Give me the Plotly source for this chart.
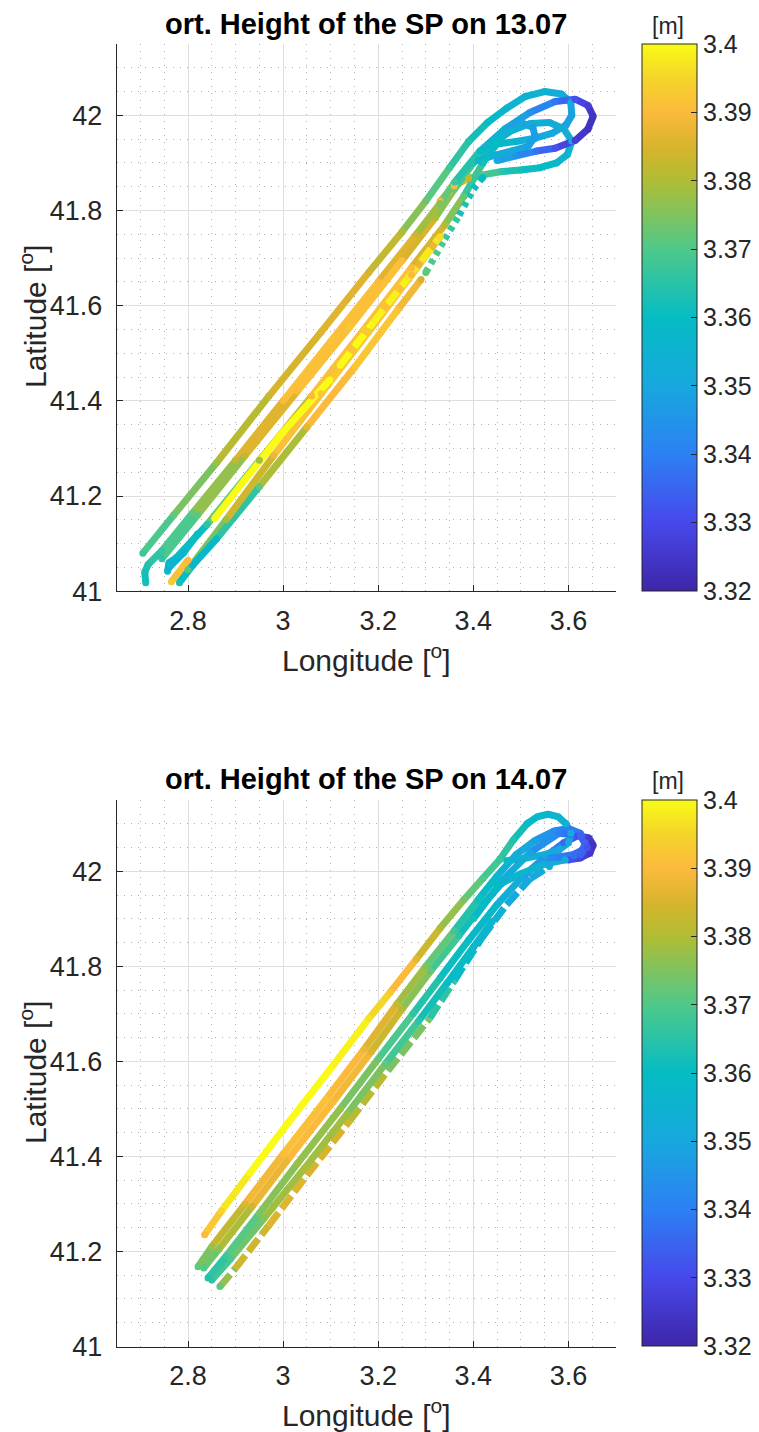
import plotly.graph_objects as go
from plotly.colors import sample_colorscale

# ---------------- colour scale (parula-like) ----------------
HMIN, HMAX = 3.32, 3.40
PARULA = [
    [0.000, "#3e26a8"],
    [0.125, "#4748eb"],
    [0.250, "#2c80f4"],
    [0.375, "#17a8de"],
    [0.500, "#05bcc4"],
    [0.625, "#4ec98a"],
    [0.750, "#b0bd34"],
    [0.8125, "#d8b42c"],
    [0.875, "#fcba3c"],
    [0.9375, "#f4d52a"],
    [1.000, "#f9fb15"],
]
CB_TICKS = [3.32, 3.33, 3.34, 3.35, 3.36, 3.37, 3.38, 3.39, 3.40]
CB_TEXT = ["3.32", "3.33", "3.34", "3.35", "3.36", "3.37", "3.38", "3.39", "3.4"]
X_TICKS = [2.8, 3.0, 3.2, 3.4, 3.6]
X_TEXT = ["2.8", "3", "3.2", "3.4", "3.6"]
Y_TICKS = [41.0, 41.2, 41.4, 41.6, 41.8, 42.0]
Y_TEXT = ["41", "41.2", "41.4", "41.6", "41.8", "42"]

# ---------------- 13.07 tracks ----------------
D13_A_LON = [2.705, 2.77, 2.86, 2.97, 3.08, 3.18, 3.25, 3.30, 3.35, 3.39, 3.43, 3.47, 3.51, 3.55, 3.585, 3.605, 3.607, 3.595, 3.565, 3.53, 3.49, 3.45]
D13_A_LAT = [41.08, 41.16, 41.27, 41.41, 41.545, 41.67, 41.755, 41.82, 41.89, 41.945, 41.985, 42.015, 42.04, 42.05, 42.045, 42.027, 42.0, 41.98, 41.962, 41.952, 41.945, 41.94]
D13_A_H = [3.368, 3.372, 3.378, 3.383, 3.386, 3.385, 3.38, 3.373, 3.368, 3.364, 3.36, 3.357, 3.355, 3.354, 3.352, 3.35, 3.348, 3.348, 3.35, 3.352, 3.355, 3.36]

D13_B_LON = [2.711, 2.709, 2.716, 2.745, 2.81, 2.90, 3.00, 3.10, 3.20, 3.28, 3.33, 3.361, 3.414, 3.467, 3.519, 3.572, 3.614, 3.641, 3.652, 3.641, 3.614, 3.572, 3.533, 3.49, 3.45]
D13_B_LAT = [41.018, 41.04, 41.056, 41.085, 41.165, 41.275, 41.40, 41.525, 41.65, 41.75, 41.815, 41.86, 41.925, 41.972, 42.006, 42.029, 42.034, 42.021, 41.998, 41.971, 41.947, 41.931, 41.925, 41.915, 41.905]
D13_B_H = [3.362, 3.362, 3.364, 3.367, 3.372, 3.382, 3.39, 3.392, 3.39, 3.383, 3.375, 3.368, 3.36, 3.352, 3.345, 3.338, 3.332, 3.327, 3.324, 3.324, 3.327, 3.332, 3.338, 3.345, 3.35]

D13_C_LON = [2.745, 2.82, 2.92, 3.03, 3.14, 3.25, 3.32, 3.36, 3.40, 3.44, 3.48, 3.52, 3.56, 3.59, 3.607, 3.598, 3.575, 3.54, 3.50, 3.46, 3.42, 3.39, 3.36, 3.33]
D13_C_LAT = [41.068, 41.16, 41.285, 41.42, 41.555, 41.695, 41.785, 41.845, 41.90, 41.94, 41.968, 41.983, 41.985, 41.972, 41.946, 41.918, 41.90, 41.89, 41.885, 41.882, 41.875, 41.868, 41.852, 41.82]
D13_C_H = [3.366, 3.372, 3.383, 3.39, 3.393, 3.39, 3.38, 3.372, 3.364, 3.36, 3.356, 3.353, 3.352, 3.352, 3.354, 3.356, 3.358, 3.36, 3.362, 3.365, 3.372, 3.382, 3.39, 3.39]

D13_D_LON = [2.757, 2.76, 2.775, 2.84, 2.95, 3.06, 3.17, 3.27, 3.34, 3.38, 3.42, 3.46, 3.50, 3.525, 3.53, 3.515, 3.48, 3.44, 3.41]
D13_D_LAT = [41.042, 41.06, 41.07, 41.14, 41.275, 41.41, 41.55, 41.68, 41.77, 41.83, 41.90, 41.955, 41.985, 41.975, 41.955, 41.935, 41.925, 41.915, 41.905]
D13_D_H = [3.36, 3.357, 3.357, 3.365, 3.378, 3.39, 3.393, 3.39, 3.38, 3.372, 3.362, 3.356, 3.35, 3.348, 3.347, 3.348, 3.35, 3.353, 3.356]

D13_E_LON = [2.782, 2.81, 2.86, 2.95, 3.05, 3.15, 3.24, 3.29]
D13_E_LAT = [41.018, 41.055, 41.11, 41.22, 41.345, 41.47, 41.59, 41.655]
D13_E_H = [3.362, 3.356, 3.36, 3.372, 3.387, 3.392, 3.392, 3.385]

D13_E2_LON = [3.30, 3.34, 3.37, 3.40, 3.42]
D13_E2_LAT = [41.67, 41.74, 41.79, 41.845, 41.87]
D13_E2_H = [3.372, 3.368, 3.365, 3.362, 3.36]

D13_F_LON = [2.765, 2.80]
D13_F_LAT = [41.02, 41.065]
D13_F_H = [3.393, 3.39]

D13_G_LON = [2.856, 2.92, 3.00, 3.098]
D13_G_LAT = [41.153, 41.235, 41.335, 41.444]
D13_G_H = [3.40, 3.40, 3.40, 3.40]

D13_G2_LON = [3.12, 3.19, 3.26, 3.33]
D13_G2_LAT = [41.475, 41.565, 41.655, 41.745]
D13_G2_H = [3.40, 3.40, 3.398, 3.396]

D13_H_LON = [2.76, 2.79, 2.82]
D13_H_LAT = [41.05, 41.08, 41.12]
D13_H_H = [3.355, 3.356, 3.36]

D13_I_LON = [2.80, 2.88, 2.98, 3.08, 3.18, 3.27, 3.33]
D13_I_LAT = [41.045, 41.15, 41.285, 41.415, 41.545, 41.665, 41.745]
D13_I_H = [3.37, 3.378, 3.388, 3.393, 3.393, 3.39, 3.385]

# ---------------- 14.07 tracks ----------------
D14_A_LON = [2.835, 2.87, 2.93, 3.01, 3.10, 3.18, 3.225, 3.28, 3.33, 3.38, 3.42, 3.455, 3.484, 3.513, 3.535, 3.557, 3.578, 3.595, 3.605, 3.60, 3.58, 3.55, 3.51, 3.47]
D14_A_LAT = [41.235, 41.285, 41.365, 41.47, 41.585, 41.69, 41.745, 41.815, 41.88, 41.94, 41.985, 42.024, 42.066, 42.10, 42.115, 42.12, 42.115, 42.10, 42.08, 42.06, 42.045, 42.035, 42.028, 42.022]
D14_A_H = [3.39, 3.395, 3.40, 3.40, 3.40, 3.397, 3.393, 3.387, 3.38, 3.374, 3.37, 3.367, 3.364, 3.36, 3.358, 3.357, 3.356, 3.354, 3.352, 3.35, 3.35, 3.352, 3.355, 3.358]

D14_B_LON = [2.821, 2.85, 2.92, 3.00, 3.09, 3.17, 3.239, 3.30, 3.36, 3.41, 3.45, 3.49, 3.53, 3.57, 3.60, 3.625, 3.635, 3.63, 3.61, 3.58, 3.55]
D14_B_LAT = [41.168, 41.21, 41.30, 41.405, 41.52, 41.625, 41.72, 41.80, 41.875, 41.94, 41.99, 42.035, 42.065, 42.085, 42.09, 42.08, 42.06, 42.045, 42.035, 42.03, 42.027]
D14_B_H = [3.372, 3.378, 3.386, 3.391, 3.392, 3.388, 3.383, 3.375, 3.368, 3.362, 3.357, 3.352, 3.348, 3.344, 3.34, 3.337, 3.335, 3.335, 3.337, 3.34, 3.345]

D14_B2_LON = [2.833, 2.865, 2.935, 3.015, 3.105, 3.185, 3.25, 3.31, 3.37, 3.42, 3.46]
D14_B2_LAT = [41.165, 41.205, 41.295, 41.40, 41.515, 41.62, 41.71, 41.79, 41.865, 41.93, 41.975]
D14_B2_H = [3.37, 3.376, 3.384, 3.39, 3.39, 3.386, 3.38, 3.372, 3.365, 3.36, 3.356]

D14_C_LON = [2.842, 2.88, 2.95, 3.03, 3.12, 3.20, 3.273, 3.33, 3.39, 3.45, 3.50, 3.55, 3.59, 3.62, 3.643, 3.652, 3.645, 3.625, 3.60]
D14_C_LAT = [41.144, 41.19, 41.28, 41.385, 41.50, 41.605, 41.70, 41.775, 41.855, 41.93, 41.985, 42.03, 42.06, 42.075, 42.07, 42.055, 42.038, 42.028, 42.024]
D14_C_H = [3.364, 3.368, 3.374, 3.378, 3.377, 3.372, 3.366, 3.362, 3.36, 3.355, 3.35, 3.343, 3.336, 3.33, 3.326, 3.324, 3.325, 3.328, 3.332]

D14_C2_LON = [2.85, 2.89, 2.96, 3.045, 3.135, 3.215, 3.285, 3.345, 3.40, 3.44]
D14_C2_LAT = [41.14, 41.185, 41.27, 41.375, 41.49, 41.595, 41.685, 41.765, 41.84, 41.895]
D14_C2_H = [3.366, 3.37, 3.376, 3.38, 3.378, 3.372, 3.365, 3.36, 3.358, 3.356]

D14_D_LON = [2.867, 2.90, 2.97, 3.05, 3.14, 3.22, 3.308, 3.36, 3.418, 3.47, 3.52, 3.56]
D14_D_LAT = [41.126, 41.165, 41.255, 41.36, 41.475, 41.58, 41.69, 41.77, 41.86, 41.93, 41.985, 42.01]
D14_D_H = [3.372, 3.382, 3.386, 3.386, 3.384, 3.378, 3.37, 3.362, 3.356, 3.352, 3.35, 3.35]

D14_E_LON = [3.40, 3.46, 3.52, 3.58, 3.625, 3.64, 3.625, 3.59]
D14_E_LAT = [41.90, 41.98, 42.04, 42.08, 42.075, 42.05, 42.035, 42.03]
D14_E_H = [3.362, 3.355, 3.348, 3.34, 3.335, 3.332, 3.335, 3.34]

D14_F_LON = [3.45, 3.50, 3.55, 3.593]
D14_F_LAT = [41.97, 41.995, 42.015, 42.024]
D14_F_H = [3.36, 3.356, 3.354, 3.352]

TRACKS_13 = [
    (D13_A_LON, D13_A_LAT, D13_A_H),
    (D13_C_LON, D13_C_LAT, D13_C_H),
    (D13_D_LON, D13_D_LAT, D13_D_H),
    (D13_I_LON, D13_I_LAT, D13_I_H),
    (D13_E_LON, D13_E_LAT, D13_E_H),
    (D13_E2_LON, D13_E2_LAT, D13_E2_H),
    (D13_H_LON, D13_H_LAT, D13_H_H),
    (D13_F_LON, D13_F_LAT, D13_F_H),
    (D13_G_LON, D13_G_LAT, D13_G_H),
    (D13_G2_LON, D13_G2_LAT, D13_G2_H),
    (D13_B_LON, D13_B_LAT, D13_B_H),
]
DASH_13 = [None, None, None, None, None, "5px,5px", None, None, None, "16px,7px", None]

TRACKS_14 = [
    (D14_D_LON, D14_D_LAT, D14_D_H),
    (D14_C2_LON, D14_C2_LAT, D14_C2_H),
    (D14_C_LON, D14_C_LAT, D14_C_H),
    (D14_B2_LON, D14_B2_LAT, D14_B2_H),
    (D14_B_LON, D14_B_LAT, D14_B_H),
    (D14_E_LON, D14_E_LAT, D14_E_H),
    (D14_F_LON, D14_F_LAT, D14_F_H),
    (D14_A_LON, D14_A_LAT, D14_A_H),
]
DASH_14 = ["16px,5px", None, None, None, None, None, None, None]

# ---------------- figure geometry ----------------
# The page body has an 8px margin, so the figure is drawn 8px in from the
# window's top-left corner; positions below are window pixels.
OFF = 8
FW, FH = 759 - OFF, 1432 - OFF
FONT = "Liberation Sans, Arial, Helvetica, sans-serif"
TXT = "#262626"
LW = 7
NBIN = 64


def fx(p):
    return (p - OFF) / FW


def fy(p):
    return 1 - (p - OFF) / FH


fig = go.Figure()


def add_tracks(tracks, dashes, xa, ya, cax):
    groups = {}
    for (lon, lat, h), dash in zip(tracks, dashes):
        for i in range(len(lon) - 1):
            m = 0.5 * (h[i] + h[i + 1])
            t = min(max((m - HMIN) / (HMAX - HMIN), 0), 1)
            b = int(round(t * (NBIN - 1)))
            key = (b, dash)
            gx, gy = groups.setdefault(key, ([], []))
            gx += [lon[i], lon[i + 1], None]
            gy += [lat[i], lat[i + 1], None]
    for (b, dash), (gx, gy) in groups.items():
        col = sample_colorscale(PARULA, [b / (NBIN - 1)])[0]
        fig.add_trace(go.Scatter(
            x=gx, y=gy, mode="lines", xaxis=xa, yaxis=ya,
            line=dict(color=col, width=LW, dash=dash or "solid"),
            hoverinfo="skip", showlegend=False))
    mx, my, mh = [], [], []
    for (lon, lat, h), dash in zip(tracks, dashes):
        if dash:
            mx += [lon[0], lon[-1]]
            my += [lat[0], lat[-1]]
            mh += [h[0], h[-1]]
        else:
            mx += lon
            my += lat
            mh += h
    fig.add_trace(go.Scatter(
        x=mx, y=my, mode="markers", xaxis=xa, yaxis=ya,
        marker=dict(size=LW, color=mh, coloraxis=cax, line=dict(width=0)),
        hoverinfo="skip", showlegend=False))


add_tracks(TRACKS_13, DASH_13, "x", "y", "coloraxis")
add_tracks(TRACKS_14, DASH_14, "x2", "y2", "coloraxis2")

XDOM = [fx(116.7), fx(616)]
TOP_DOM = [fy(591.2), fy(44)]
BOT_DOM = [fy(1346.5), fy(800)]
MINOR_GRID = dict(showgrid=True, gridcolor="#b0b0b0", griddash="1px,6px", gridwidth=1, ticks="")


def xaxis(anchor):
    return dict(
        domain=XDOM, anchor=anchor, range=[2.65, 3.70],
        tickvals=X_TICKS, ticktext=X_TEXT,
        showline=True, linecolor=TXT, linewidth=1, mirror=False,
        ticks="inside", ticklen=6, tickcolor=TXT, tickwidth=1,
        showgrid=True, gridcolor="#dedede", gridwidth=1, zeroline=False,
        minor=dict(dtick=0.05, tick0=2.65, **MINOR_GRID),
        tickfont=dict(family=FONT, size=27, color=TXT), ticklabelstandoff=5,
    )


def yaxis(anchor, dom):
    return dict(
        domain=dom, anchor=anchor, range=[41.0, 42.15],
        tickvals=Y_TICKS, ticktext=Y_TEXT,
        showline=True, linecolor=TXT, linewidth=1, mirror=False,
        ticks="inside", ticklen=6, tickcolor=TXT, tickwidth=1,
        showgrid=True, gridcolor="#dedede", gridwidth=1, zeroline=False,
        minor=dict(dtick=0.05, tick0=41.0, **MINOR_GRID),
        tickfont=dict(family=FONT, size=27, color=TXT), ticklabelstandoff=8,
    )


def cbar(dom):
    return dict(
        x=fx(642), xanchor="left", xpad=0, ypad=0,
        y=dom[1], yanchor="top", len=dom[1] - dom[0], lenmode="fraction",
        thickness=55, thicknessmode="pixels",
        outlinecolor=TXT, outlinewidth=1,
        tickvals=CB_TICKS, ticktext=CB_TEXT,
        ticks="inside", ticklen=6, tickcolor=TXT,
        tickfont=dict(family=FONT, size=25, color=TXT),
    )


fig.update_layout(
    width=FW, height=FH, margin=dict(l=0, r=0, t=0, b=0, autoexpand=False),
    paper_bgcolor="white", plot_bgcolor="white",
    xaxis=xaxis("y"), yaxis=yaxis("x", TOP_DOM),
    xaxis2=xaxis("y2"), yaxis2=yaxis("x2", BOT_DOM),
    coloraxis=dict(colorscale=PARULA, cmin=HMIN, cmax=HMAX, colorbar=cbar(TOP_DOM)),
    coloraxis2=dict(colorscale=PARULA, cmin=HMIN, cmax=HMAX, colorbar=cbar(BOT_DOM)),
    showlegend=False,
)

ann = []
for date, ytitle, ylon, ylat, ym in [("13.07", 24, 658, 317, 26), ("14.07", 779, 1413, 1073, 781)]:
    ann.append(dict(text="<b>ort. Height of the SP on %s</b>" % date, x=fx(366), y=fy(ytitle),
                    xref="paper", yref="paper", showarrow=False, xanchor="center", yanchor="middle",
                    font=dict(family=FONT, size=29, color="black")))
    ann.append(dict(text="Longitude [<sup>o</sup>]", x=fx(366), y=fy(ylon),
                    xref="paper", yref="paper", showarrow=False, xanchor="center", yanchor="middle",
                    font=dict(family=FONT, size=30, color=TXT)))
    ann.append(dict(text="Latitude [<sup>o</sup>]", x=fx(33), y=fy(ylat), textangle=-90,
                    xref="paper", yref="paper", showarrow=False, xanchor="center", yanchor="middle",
                    font=dict(family=FONT, size=30, color=TXT)))
    ann.append(dict(text="[m]", x=fx(668), y=fy(ym),
                    xref="paper", yref="paper", showarrow=False, xanchor="center", yanchor="middle",
                    font=dict(family=FONT, size=23, color=TXT)))
fig.update_layout(annotations=ann)

fig.write_html("out.html", config={"displayModeBar": False})
